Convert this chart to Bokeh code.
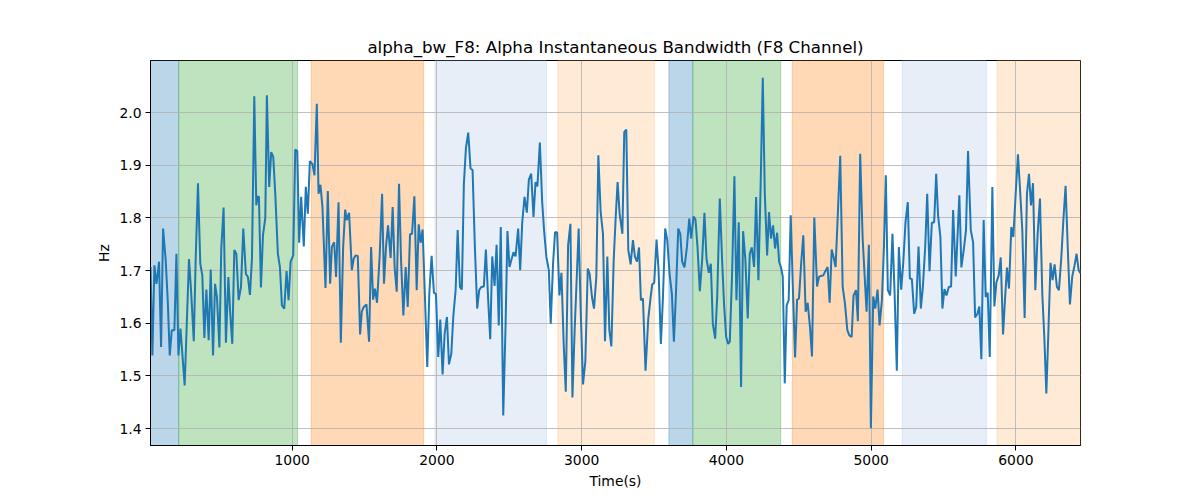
from bokeh.plotting import figure
from bokeh.models import Range1d, FixedTicker, PrintfTickFormatter, BoxAnnotation
from bokeh.embed import file_html
from bokeh.resources import INLINE

# ---- data ----
time_s = [
    21, 34, 48, 62, 71, 80, 94, 108, 126, 140, 154, 168, 186, 200, 214, 228, 241, 257, 274, 287,
    301, 320, 333, 349, 365, 379, 393, 407, 423, 437, 453, 467, 480, 497, 510, 526, 542, 559, 572, 586,
    600, 614, 630, 646, 662, 680, 694, 708, 722, 738, 752, 761, 770, 784, 798, 814,
    825, 841, 855, 869, 883, 901, 915, 929, 945, 961, 975, 989, 1007, 1021, 1035, 1048, 1062, 1080, 1094, 1108,
    1122, 1140, 1154, 1170, 1182, 1195, 1209, 1230, 1246, 1262, 1274, 1290, 1303, 1320, 1336, 1352, 1366, 1377, 1393, 1412,
    1425, 1439, 1453, 1469, 1481, 1494, 1513, 1531, 1545, 1559, 1572, 1586, 1605,
    1621, 1634, 1648, 1662, 1680, 1694, 1708, 1722, 1738, 1752, 1768, 1784, 1798, 1814, 1828, 1844, 1860, 1874, 1887, 1901,
    1917, 1933, 1947, 1963, 1979, 1993, 2009, 2023, 2039, 2053, 2069, 2083, 2099, 2113, 2129, 2143, 2159, 2172, 2186, 2200,
    2216, 2232, 2246, 2262, 2278, 2292, 2306, 2324, 2338, 2354, 2368, 2382, 2398, 2412, 2427,
    2441, 2458, 2474, 2487, 2501, 2515, 2529, 2543, 2561, 2575, 2589, 2605, 2621, 2635, 2651, 2667, 2681, 2694, 2711, 2727,
    2740, 2756, 2773, 2786, 2802, 2816, 2830, 2846, 2860, 2876, 2890, 2906, 2922, 2936, 2952, 2966, 2979, 2993, 3009, 3025,
    3042, 3055, 3071, 3085, 3101, 3115, 3131, 3147, 3161, 3177, 3191, 3205, 3221,
    3235, 3248, 3262, 3281, 3294, 3308, 3322, 3338, 3354, 3368, 3382, 3396, 3409, 3423, 3441, 3460, 3474, 3487, 3501, 3517,
    3531, 3547, 3561, 3577, 3591, 3607, 3623, 3637, 3651, 3667, 3681, 3694, 3710, 3727, 3743, 3756, 3773, 3786, 3800, 3816,
    3832, 3848, 3862, 3878, 3892, 3906, 3922, 3936, 3954, 3970, 3984, 3998, 4012,
    4023, 4039, 4055, 4069, 4085, 4101, 4115, 4131, 4147, 4161, 4175, 4191, 4205, 4221, 4237, 4251, 4265, 4281, 4294, 4308,
    4322, 4336, 4350, 4364, 4377, 4389, 4403, 4416, 4430, 4444, 4460, 4474, 4488, 4501, 4517, 4531, 4547, 4561, 4577, 4591,
    4607, 4626, 4639, 4653, 4669, 4683, 4699, 4713, 4727, 4740, 4754, 4770, 4786, 4803,
    4819, 4835, 4849, 4865, 4878, 4895, 4908, 4924, 4941, 4954, 4968, 4984, 4998, 5014, 5028, 5044, 5058, 5074, 5088, 5101,
    5115, 5131, 5147, 5161, 5177, 5191, 5207, 5221, 5237, 5253, 5267, 5281, 5297, 5311, 5327, 5343, 5357, 5373, 5387, 5403,
    5419, 5435, 5449, 5462, 5478, 5492, 5506, 5520, 5536, 5552, 5566, 5584,
    5609, 5623, 5642, 5655, 5669, 5688, 5704, 5718, 5734, 5747, 5761, 5777, 5791, 5805, 5819, 5837, 5851, 5865, 5881, 5895,
    5911, 5924, 5938, 5952, 5968, 5982, 5998, 6014, 6030, 6044, 6060, 6076, 6090, 6104, 6118, 6134, 6150, 6166, 6182, 6196,
    6210, 6223, 6239, 6253, 6267, 6283, 6297, 6313, 6329, 6343, 6359, 6373, 6389, 6405, 6419, 6433, 6446,
]

alpha_bw = [
    1.707, 1.539, 1.710, 1.675, 1.694, 1.717, 1.555, 1.780, 1.720, 1.644, 1.539, 1.587, 1.587, 1.732, 1.539, 1.590, 1.542, 1.482, 1.618, 1.722,
    1.663, 1.566, 1.720, 1.866, 1.713, 1.691, 1.572, 1.664, 1.568, 1.702, 1.539, 1.675, 1.650, 1.554, 1.742, 1.820, 1.563, 1.688, 1.618, 1.561,
    1.739, 1.732, 1.644, 1.669, 1.780, 1.694, 1.688, 1.654, 1.723, 2.031, 1.824, 1.841, 1.840, 1.668, 1.767, 1.800,
    2.033, 1.859, 1.925, 1.916, 1.846, 1.732, 1.707, 1.634, 1.628, 1.699, 1.644, 1.717, 1.729, 1.930, 1.927, 1.753, 1.840, 1.746, 1.859, 1.808,
    1.908, 1.902, 1.881, 2.017, 1.846, 1.863, 1.821, 1.667, 1.851, 1.675, 1.745, 1.754, 1.688, 1.830, 1.563, 1.745, 1.816, 1.796, 1.810, 1.701,
    1.723, 1.729, 1.728, 1.579, 1.622, 1.631, 1.636, 1.565, 1.745, 1.645, 1.666, 1.639, 1.732,
    1.846, 1.675, 1.745, 1.786, 1.724, 1.821, 1.704, 1.660, 1.865, 1.720, 1.615, 1.707, 1.631, 1.769, 1.770, 1.841, 1.663, 1.788, 1.753, 1.778,
    1.650, 1.517, 1.656, 1.728, 1.658, 1.656, 1.536, 1.607, 1.503, 1.580, 1.612, 1.522, 1.542, 1.613, 1.663, 1.777, 1.669, 1.664, 1.865, 1.932,
    1.962, 1.894, 1.891, 1.745, 1.628, 1.663, 1.669, 1.670, 1.740, 1.644, 1.570, 1.727, 1.671, 1.749, 1.596,
    1.783, 1.425, 1.596, 1.775, 1.707, 1.721, 1.735, 1.727, 1.780, 1.701, 1.791, 1.840, 1.810, 1.873, 1.884, 1.802, 1.868, 1.860, 1.943, 1.830,
    1.777, 1.726, 1.701, 1.599, 1.713, 1.773, 1.773, 1.653, 1.696, 1.558, 1.470, 1.748, 1.789, 1.459, 1.593, 1.688, 1.780, 1.625, 1.484, 1.527,
    1.704, 1.694, 1.650, 1.628, 1.688, 1.919, 1.811, 1.770, 1.566, 1.727, 1.587, 1.556, 1.720,
    1.802, 1.868, 1.808, 1.770, 1.963, 1.968, 1.739, 1.712, 1.758, 1.726, 1.717, 1.744, 1.644, 1.647, 1.510, 1.609, 1.644, 1.674, 1.677, 1.759,
    1.701, 1.561, 1.647, 1.780, 1.758, 1.694, 1.656, 1.565, 1.656, 1.780, 1.770, 1.717, 1.706, 1.745, 1.799, 1.761, 1.803, 1.797, 1.745, 1.661,
    1.720, 1.810, 1.723, 1.696, 1.713, 1.599, 1.571, 1.650, 1.837, 1.720, 1.634, 1.574, 1.561,
    1.565, 1.694, 1.879, 1.644, 1.792, 1.479, 1.775, 1.720, 1.609, 1.732, 1.744, 1.707, 1.840, 1.682, 1.872, 2.066, 1.846, 1.729, 1.811, 1.761,
    1.786, 1.742, 1.772, 1.717, 1.706, 1.689, 1.486, 1.634, 1.644, 1.805, 1.656, 1.535, 1.645, 1.647, 1.717, 1.767, 1.622, 1.639, 1.593, 1.537,
    1.801, 1.670, 1.688, 1.690, 1.691, 1.699, 1.707, 1.639, 1.740, 1.726, 1.707, 1.811, 1.918, 1.669,
    1.637, 1.587, 1.577, 1.574, 1.653, 1.663, 1.604, 1.922, 1.761, 1.694, 1.622, 1.749, 1.401, 1.651, 1.628, 1.664, 1.596, 1.644, 1.745, 1.881,
    1.663, 1.653, 1.770, 1.663, 1.510, 1.745, 1.664, 1.713, 1.792, 1.830, 1.685, 1.684, 1.618, 1.631, 1.746, 1.628, 1.669, 1.745, 1.846, 1.699,
    1.791, 1.792, 1.884, 1.805, 1.764, 1.628, 1.665, 1.653, 1.669, 1.670, 1.815, 1.689,
    1.843, 1.706, 1.745, 1.777, 1.927, 1.777, 1.754, 1.611, 1.618, 1.632, 1.532, 1.796, 1.650, 1.658, 1.536, 1.859, 1.632, 1.678, 1.691, 1.725,
    1.579, 1.644, 1.706, 1.666, 1.783, 1.764, 1.845, 1.921, 1.846, 1.777, 1.610, 1.846, 1.884, 1.824, 1.866, 1.663, 1.770, 1.837, 1.656, 1.574,
    1.467, 1.574, 1.715, 1.682, 1.712, 1.669, 1.663, 1.723, 1.802, 1.861, 1.736, 1.636, 1.689, 1.710, 1.732, 1.701, 1.695,
]

band_start = [21, 216, 1131, 1986, 2835, 3602, 3768, 4455, 5214, 5869]
band_end = [216, 1037, 1908, 2757, 3502, 3768, 4375, 5086, 5796, 6446]
band_colors = ["#1f77b4", "#2ca02c", "#ff7f0e", "#aec7e8", "#ffbb78",
               "#1f77b4", "#2ca02c", "#ff7f0e", "#aec7e8", "#ffbb78"]

x_ticks = [1000, 2000, 3000, 4000, 5000, 6000]
y_ticks = [1.4, 1.5, 1.6, 1.7, 1.8, 1.9, 2.0]

FONT = "DejaVu Sans"

p = figure(width=1200, height=500, output_backend="svg", toolbar_location=None,
           x_range=Range1d(21, 6446), y_range=Range1d(1.368, 2.099),
           title="alpha_bw_F8: Alpha Instantaneous Bandwidth (F8 Channel)",
           min_border_left=150, min_border_right=120, min_border_top=60, min_border_bottom=55)

p.background_fill_color = "white"
p.border_fill_color = "white"
p.outline_line_color = "black"
p.outline_line_width = 1
p.outline_line_alpha = 1

p.title.align = "center"
p.title.text_font = FONT
p.title.text_font_size = "16.7px"
p.title.text_font_style = "normal"
p.title.text_color = "black"
p.title.standoff = 7

for s, e, c in zip(band_start, band_end, band_colors):
    p.add_layout(BoxAnnotation(left=s, right=e, fill_color=c, fill_alpha=0.3,
                               line_color=c, line_alpha=0.3, line_width=1, level="image"))

p.line(time_s, alpha_bw, line_color="#1f77b4", line_width=2)

for ax in (p.xaxis, p.yaxis):
    ax.axis_line_color = "black"
    ax.major_tick_line_color = "black"
    ax.major_tick_out = 5
    ax.major_tick_in = 0
    ax.minor_tick_line_color = None
    ax.major_label_text_font = FONT
    ax.major_label_text_font_size = "13.9px"
    ax.major_label_text_color = "black"
    ax.axis_label_text_font = FONT
    ax.axis_label_text_font_size = "13.9px"
    ax.axis_label_text_font_style = "normal"
    ax.axis_label_text_color = "black"
    ax.major_label_standoff = 4

p.xaxis.ticker = FixedTicker(ticks=x_ticks)
p.yaxis.ticker = FixedTicker(ticks=y_ticks)
p.yaxis.formatter = PrintfTickFormatter(format="%.1f")
p.xaxis.axis_label = "Time(s)"
p.yaxis.axis_label = "Hz"
p.xaxis.axis_label_standoff = 5
p.yaxis.axis_label_standoff = 4

p.xgrid.grid_line_color = "#b0b0b0"
p.ygrid.grid_line_color = "#b0b0b0"
p.xgrid.grid_line_width = 0.8
p.ygrid.grid_line_width = 0.8

open("out.html", "w").write(file_html(p, INLINE))
